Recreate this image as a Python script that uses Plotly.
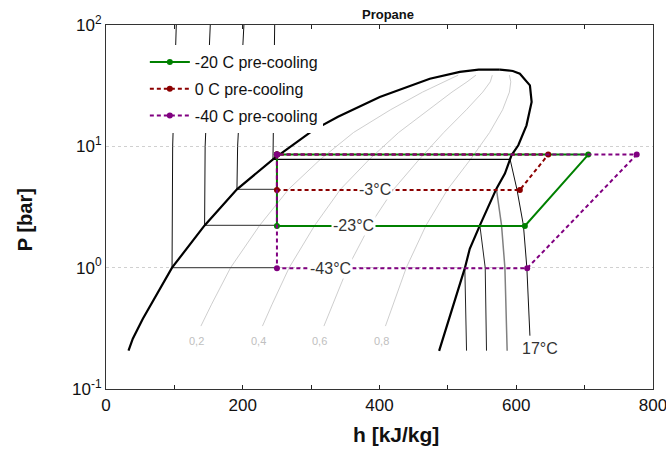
import math
import plotly.graph_objects as go

# --- Saturation dome of propane (h in kJ/kg, P in bar) ---
liq_h = [32.9, 39.2, 53.9, 96.6, 144.2, 191.5, 244.2, 302.7, 339.3, 400.4, 473.6, 517.5, 545.0, 576.0]
liq_p = [0.207, 0.26, 0.38, 1.0, 2.23, 4.42, 7.81, 13.55, 17.5, 25.5, 36.1, 41.1, 42.9, 42.9]
vap_h = [576.0, 595.0, 605.3, 620.0, 622.5, 615.0, 603.0, 593.0, 583.4, 571.0, 546.8, 532.0, 524.8, 488.0, 487.2]
vap_p = [42.9, 41.8, 39.7, 31.8, 23.2, 14.9, 10.2, 8.43, 5.96, 4.48, 2.23, 1.43, 0.99, 0.215, 0.206]

# --- Isotherms: compressed liquid branches ---
iso_liq = {
    "-43": ([96.6, 97.5, 102.8], [1.0, 10.0, 100.0]),
    "-23": ([144.2, 145.0, 152.5], [2.23, 10.0, 100.0]),
    "-3": ([191.5, 192.5, 201.7], [4.42, 10.0, 100.0]),
    "17": ([244.2, 244.5, 246.7], [7.81, 10.0, 100.0]),
}
# two-phase plateaus (liquid side up to the cycle expansion line / vapour line)
iso_2ph = {
    "-43": ([96.6, 250.0], [1.0, 1.0], "#555555"),
    "-23": ([144.2, 250.0], [2.23, 2.23], "#555555"),
    "-3": ([191.5, 250.0], [4.42, 4.42], "#555555"),
    "17": ([244.2, 591.0], [7.81, 7.81], "#000000"),
}
# superheated vapour branches
iso_vap = {
    "-43": ([524.8, 526.0, 527.3], [0.99, 0.5, 0.207], "#222222", 1),
    "-23": ([546.8, 554.6, 556.5], [2.23, 1.0, 0.207], "#222222", 1),
    "-3": ([571.0, 578.5, 583.4, 586.7], [4.45, 2.23, 1.0, 0.207], "#808080", 1.5),
    "17": ([591.0, 601.0, 610.5, 615.5, 620.0], [7.81, 4.42, 2.23, 1.0, 0.275], "#111111", 1),
}

# --- Vapour-quality lines ---
qual_p = [0.33, 0.5, 1.0, 2.23, 4.45, 7.8, 13.0, 20.0, 28.0, 34.0, 38.6]
qual_h = {
    "0,2": [138.8, 154.5, 182.2, 224.7, 267.4, 313.4, 362.0, 416.0, 463.0, 496.0, 515.0],
    "0,4": [228.8, 243.0, 267.9, 305.2, 343.3, 385.0, 428.0, 471.0, 506.0, 528.0, 541.0],
    "0,6": [318.7, 331.4, 353.5, 385.8, 421.0, 458.0, 494.0, 527.0, 551.0, 562.0, 565.0],
    "0,8": [408.7, 419.9, 439.2, 468.0, 500.0, 533.0, 561.0, 580.0, 590.0, 592.0, 590.0],
}
qual_label_p = 0.251

# --- Refrigeration cycles ---
cyc_names = ["-20 C pre-cooling", "0 C pre-cooling", "-40 C pre-cooling"]
cyc_h = [
    [250, 250, 612.6, 705.3, 250],
    [250, 250, 605.3, 646.8, 250],
    [250, 250, 616.0, 776.2, 250],
]
cyc_p = [
    [8.55, 2.21, 2.21, 8.55, 8.55],
    [8.55, 4.37, 4.37, 8.55, 8.55],
    [8.55, 0.99, 0.99, 8.55, 8.55],
]
cyc_colors = ["#008000", "#8B0000", "#800080"]
cyc_dash = ["solid", "4px,3px", "4px,3px"]

# temperature labels on the evaporator plateaus
temp_labels = ["-3°C", "-23°C", "-43°C", "17°C"]
temp_lab_h = [393.0, 362.3, 328.7, 634.6]
temp_lab_p = [4.37, 2.21, 0.99, 0.215]

FONT = "Liberation Sans, Arial, sans-serif"

fig = go.Figure()

def add_line(h, p, color, width=1.0, dash="solid"):
    fig.add_trace(go.Scatter(x=h, y=p, mode="lines", showlegend=False, hoverinfo="skip",
                             line=dict(color=color, width=width, dash=dash)))

# quality lines
for name, hs in qual_h.items():
    add_line(hs, qual_p, "#c8c8c8", 0.9)

# isotherms
for k, (h, p) in iso_liq.items():
    add_line(h, p, "#111111", 1.0)
for k, (h, p, c) in iso_2ph.items():
    add_line(h, p, c, 1.2)
for k, (h, p, c, w) in iso_vap.items():
    add_line(h, p, c, w)

# saturation dome
add_line(liq_h, liq_p, "#000000", 2.2)
add_line(vap_h, vap_p, "#000000", 2.2)

# cycles
for i in range(3):
    fig.add_trace(go.Scatter(
        x=cyc_h[i], y=cyc_p[i], mode="lines+markers", name=cyc_names[i],
        legendgroup=str(i),
        line=dict(color=cyc_colors[i], width=2, dash=cyc_dash[i]),
        marker=dict(color=cyc_colors[i], size=6),
    ))

# quality labels (annotation y on a log axis is given in log10 units)
for name, hs in qual_h.items():
    fig.add_annotation(x=hs[0] - 6, y=math.log10(qual_label_p), yref="y", xref="x", text=name,
                       showarrow=False, font=dict(family=FONT, size=11, color="#c0c0c0"),
                       xanchor="center", yanchor="middle")

# temperature labels with white background
for t, h, p in zip(temp_labels, temp_lab_h, temp_lab_p):
    fig.add_annotation(x=h, y=math.log10(p), text=t, showarrow=False, xref="x", yref="y",
                       font=dict(family=FONT, size=16, color="#333333"),
                       xanchor="center", yanchor="middle",
                       bgcolor="white" if t != "17°C" else None, borderpad=1)

# title and axis titles
fig.add_annotation(x=0.515, y=1.0, xref="paper", yref="paper", yshift=11, text="<b>Propane</b>",
                   xanchor="center", yanchor="middle",
                   showarrow=False, font=dict(family=FONT, size=13, color="#111111"))
fig.add_annotation(x=0.530, y=-0.126, xref="paper", yref="paper", text="<b>h [kJ/kg]</b>",
                   xanchor="center", yanchor="middle",
                   showarrow=False, font=dict(family=FONT, size=21, color="#111111"))
fig.add_annotation(x=-0.148, y=0.464, xref="paper", yref="paper", text="<b>P [bar]</b>", textangle=-90,
                   xanchor="center", yanchor="middle",
                   showarrow=False, font=dict(family=FONT, size=20, color="#111111"))

x_ticks = [0, 100, 200, 300, 400, 500, 600, 700, 800]
x_ticktext = ["0", "", "200", "", "400", "", "600", "", "800"]
y_ticks = [0.1, 1, 10, 100]
y_ticktext = ["10<sup>-1</sup>", "10<sup>0</sup>", "10<sup>1</sup>", "10<sup>2</sup>"]

fig.update_layout(
    width=666, height=451,
    margin=dict(l=106, r=13, t=25, b=62, autoexpand=False),
    paper_bgcolor="white", plot_bgcolor="white",
    font=dict(family=FONT, size=16, color="#111111"),
    showlegend=True,
    legend=dict(x=0.071, y=0.945, xanchor="left", yanchor="top", bgcolor="white",
                font=dict(family=FONT, size=16, color="#111111"),
                tracegroupgap=3, traceorder="grouped", itemwidth=40),
    xaxis=dict(range=[0, 800], tickvals=x_ticks, ticktext=x_ticktext, ticks="inside", ticklen=4,
               tickcolor="#222222", showline=True, linecolor="#333333", linewidth=1.2, mirror="ticks",
               showgrid=False, zeroline=False, ticklabeloverflow="allow", automargin=False,
               tickfont=dict(family=FONT, size=17, color="#111111")),
    yaxis=dict(type="log", range=[-1, 2], tickvals=y_ticks, ticktext=y_ticktext, ticks="",
               showline=True, linecolor="#333333", linewidth=1.2, mirror=True, automargin=False,
               showgrid=True, gridcolor="#d0d0d0", griddash="3px,3px", gridwidth=1, zeroline=False,
               tickfont=dict(family=FONT, size=17, color="#111111")),
)

fig.write_html("out.html")
